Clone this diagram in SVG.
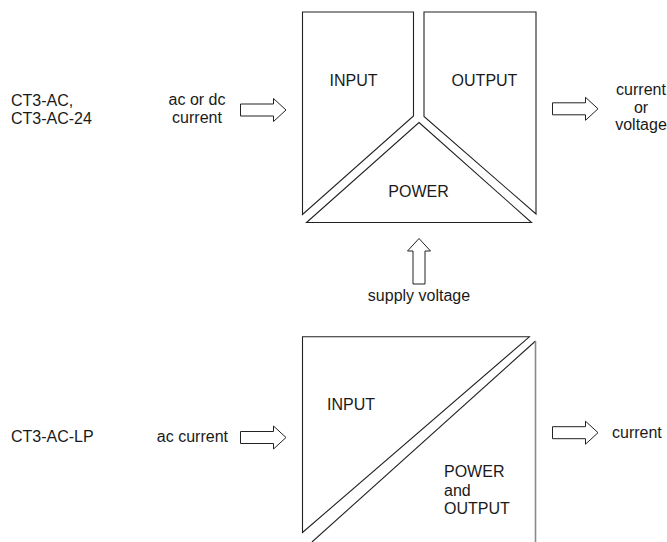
<svg xmlns="http://www.w3.org/2000/svg" width="667" height="542" viewBox="0 0 667 542">
<style>
  .blk { fill: none; stroke: #222; stroke-width: 1.1; stroke-linejoin: miter; }
  .gry { fill: none; stroke: #8a8a8a; stroke-width: 1.6; }
  .arr { fill: #fff; stroke: #222; stroke-width: 1; }
  text { font-family: "Liberation Sans", Arial, sans-serif; font-size: 16px; fill: #1a1a1a; }
  .mid { text-anchor: middle; }
  .end { text-anchor: end; }
</style>
<defs>
  <path id="arrow" d="M0,-6 H33 V-11.5 L45.5,0 L33,11.5 V6 H0 Z"/>
</defs>
<rect width="667" height="542" fill="#fff"/>

<g id="labels-left">
  <text x="11" y="105.5">CT3-AC,</text>
  <text x="11" y="123.5">CT3-AC-24</text>
  <text class="mid" x="197" y="105">ac or dc</text>
  <text class="mid" x="197" y="123">current</text>
  <text x="11" y="441.5">CT3-AC-LP</text>
  <text class="end" x="228" y="441.5">ac current</text>
</g>

<g id="node-input-top">
  <path class="blk" d="M302.5,214.5 V12 H413.5 V116 Z"/>
  <text class="mid" x="353.5" y="86">INPUT</text>
</g>
<g id="node-output-top">
  <path class="blk" d="M536,214 V12 H424 V116.5 Z"/>
  <text class="mid" x="484.5" y="86">OUTPUT</text>
</g>
<g id="node-power-top">
  <path class="blk" d="M419,122.5 L531.5,222.5 H306.5 Z"/>
  <text class="mid" x="418.5" y="197">POWER</text>
</g>

<g id="node-input-bottom">
  <path class="blk" d="M302.5,532.5 V336.8 H529.3 Z"/>
  <text x="327" y="410">INPUT</text>
</g>
<g id="node-power-output-bottom">
  <path class="blk" d="M535.5,341 L312,542"/>
  <path class="gry" d="M535.5,341 V542"/>
  <text x="444" y="477">POWER</text>
  <text x="444" y="495.5">and</text>
  <text x="444" y="514">OUTPUT</text>
</g>

<g id="labels-right">
  <text class="mid" x="641" y="95">current</text>
  <text class="mid" x="641" y="112.5">or</text>
  <text class="mid" x="641" y="130">voltage</text>
  <text class="mid" x="419" y="301">supply voltage</text>
  <text x="612" y="438">current</text>
</g>

<g id="connectors">
  <use href="#arrow" class="arr" transform="translate(240.5,110)"/>
  <use href="#arrow" class="arr" transform="translate(552.5,108.8)"/>
  <use href="#arrow" class="arr" transform="translate(419,284) rotate(-90)"/>
  <use href="#arrow" class="arr" transform="translate(240.5,437.5)"/>
  <use href="#arrow" class="arr" transform="translate(552.5,432.7)"/>
</g>
</svg>
